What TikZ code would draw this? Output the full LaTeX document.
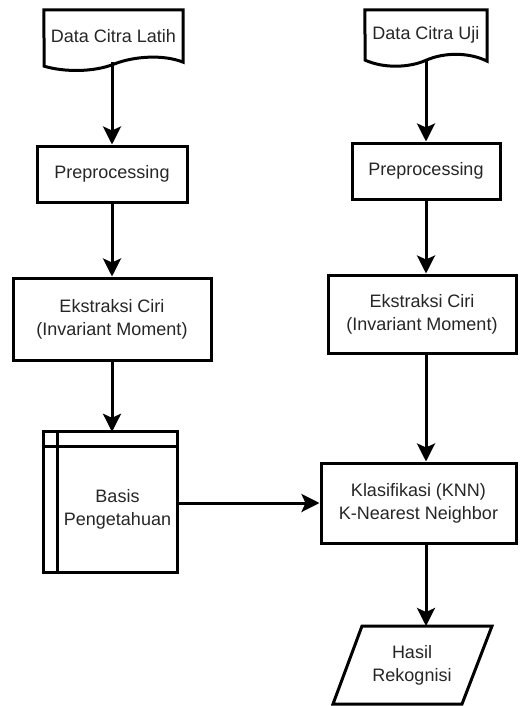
\documentclass[tikz,border=0pt]{standalone}
\usepackage{fontspec}
\setmainfont{Liberation Sans}
\usetikzlibrary{arrows.meta}

\begin{document}
\begin{tikzpicture}[x=1pt,y=-1pt,
  every node/.style={font=\fontsize{18}{23}\selectfont, text=black!85, align=center},
  box/.style={draw, line width=3pt, inner sep=0pt},
  outline/.style={line width=3pt, line join=miter},
  arr/.style={-{Stealth[length=18pt,width=18pt,inset=4pt]}, line width=3pt}]
\fill[white] (0,0) rectangle (519,706);
\useasboundingbox (0,0) rectangle (519,706);

\coordinate (colL) at (112,0);
\coordinate (colR) at (426,0);

% left column
\node (latih) [minimum width=139pt, minimum height=52pt, inner sep=0pt] at (113.5,36) {Data Citra Latih};
\draw [outline] (latih.north west) -- (latih.north east) -- (latih.south east)
  .. controls +(-20,-8) and +(20,-8) .. ++(-69.5,2)
  .. controls +(-20,8) and +(20,6) .. ++(-69.5,2) -- cycle;
\node (prepL) [box, minimum width=150pt, minimum height=56pt] at (112,174) {Preprocessing};
\node (eksL) [box, minimum width=198pt, minimum height=82pt] at (112,319) {Ekstraksi Ciri\\(Invariant Moment)};
\node (basis) [minimum width=119pt, minimum height=125pt, inner sep=0pt] at (117.5,509.5) {Basis\\Pengetahuan};
\draw [outline] ([xshift=-14pt]basis.south west) rectangle ([yshift=15pt]basis.north east);
\draw [outline] ([yshift=15pt]basis.north west) -- (basis.south west);
\draw [outline] ([xshift=-14pt]basis.north west) -- (basis.north east);

% right column
\node (uji) [minimum width=122pt, minimum height=50pt, inner sep=0pt] at (426,35) {Data Citra Uji};
\draw [outline] (uji.north west) -- (uji.north east) -- ([yshift=-1pt]uji.south east)
  .. controls +(-18,-9) and +(18,-8) .. ++(-61,-1)
  .. controls +(-18,8) and +(18,8) .. ++(-61,0) -- cycle;
\node (prepR) [box, minimum width=148pt, minimum height=56pt] at (426,171) {Preprocessing};
\node (eksR) [box, minimum width=188pt, minimum height=78pt] at (422,314) {Ekstraksi Ciri\\(Invariant Moment)};
\node (klas) [box, minimum width=195pt, minimum height=80pt] at (418.5,503) {Klasifikasi (KNN)\\K-Nearest Neighbor};
\node (hasil) at (412,665) {Hasil\\Rekognisi};
\draw [outline] (362,626) -- (492,626) -- (462,704) -- (333,704) -- cycle;
\coordinate (hasilTop) at (426,626);

% arrows
\draw [arr] (latih.south -| colL) -- (prepL.north);
\draw [arr] (prepL.south) -- (eksL.north);
\draw [arr] (eksL.south -| colL) -- ([yshift=15pt]basis.north -| colL);
\draw [arr] (uji.south) -- (prepR.north);
\draw [arr] (prepR.south) -- (eksR.north -| colR);
\draw [arr] (eksR.south -| colR) -- (klas.north -| colR);
\draw [arr] (klas.south -| colR) -- (hasilTop);
\draw [arr] (basis.east |- klas.west) -- (klas.west);
\end{tikzpicture}
\end{document}
